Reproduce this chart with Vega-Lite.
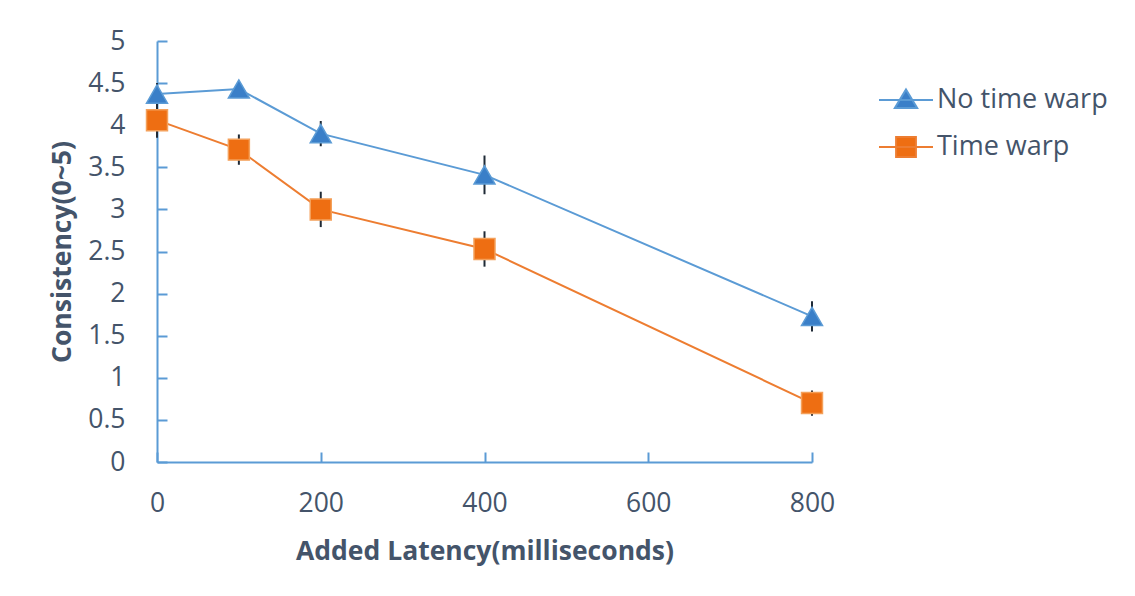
{
  "$schema": "https://vega.github.io/schema/vega-lite/v6.json",
  "width": 655,
  "height": 421,
  "autosize": {"type": "none"},
  "padding": {"left": 157, "top": 41, "right": 323, "bottom": 134},
  "background": "white",
  "config": {"view": {"stroke": null}, "font": "Open Sans"},
  "data": {
    "values": [
      {"series": "No time warp", "latency": 0, "mean": 4.37, "err": 0.13},
      {"series": "No time warp", "latency": 100, "mean": 4.43, "err": 0.05},
      {"series": "No time warp", "latency": 200, "mean": 3.9, "err": 0.15},
      {"series": "No time warp", "latency": 400, "mean": 3.41, "err": 0.23},
      {"series": "No time warp", "latency": 800, "mean": 1.73, "err": 0.18},
      {"series": "Time warp", "latency": 0, "mean": 4.06, "err": 0.21},
      {"series": "Time warp", "latency": 100, "mean": 3.71, "err": 0.18},
      {"series": "Time warp", "latency": 200, "mean": 3.0, "err": 0.21},
      {"series": "Time warp", "latency": 400, "mean": 2.53, "err": 0.21},
      {"series": "Time warp", "latency": 800, "mean": 0.7, "err": 0.15}
    ]
  },
  "encoding": {
    "x": {
      "field": "latency",
      "type": "quantitative",
      "scale": {"domain": [0, 800], "nice": false},
      "axis": {
        "title": "Added Latency(milliseconds)",
        "values": [0, 200, 400, 600, 800],
        "grid": false,
        "labelFlush": false,
        "domainColor": "#5B9BD5",
        "domainWidth": 2,
        "tickColor": "#5B9BD5",
        "tickWidth": 2,
        "tickSize": -10,
        "labelFontSize": 26.5,
        "labelColor": "#44546A",
        "labelPadding": 38,
        "titleFontSize": 26.5,
        "titleFontWeight": "bold",
        "titleColor": "#44546A",
        "titlePadding": 22
      }
    },
    "y": {
      "field": "mean",
      "type": "quantitative",
      "scale": {"domain": [0, 5], "nice": false},
      "axis": {
        "title": "Consistency(0~5)",
        "values": [0, 0.5, 1, 1.5, 2, 2.5, 3, 3.5, 4, 4.5, 5],
        "format": "~g",
        "grid": false,
        "labelFlush": false,
        "domainColor": "#5B9BD5",
        "domainWidth": 2,
        "tickColor": "#5B9BD5",
        "tickWidth": 2,
        "tickSize": -10,
        "labelFontSize": 26.5,
        "labelColor": "#44546A",
        "labelPadding": 42,
        "titleFontSize": 26.5,
        "titleFontWeight": "bold",
        "titleColor": "#44546A",
        "titleX": -95,
        "titleAngle": -90,
        "titleAlign": "center",
        "titleBaseline": "middle"
      }
    }
  },
  "layer": [
    {
      "mark": {"type": "line", "strokeWidth": 2},
      "encoding": {
        "color": {
          "field": "series",
          "type": "nominal",
          "scale": {"domain": ["No time warp", "Time warp"], "range": ["#5B9BD5", "#ED7D31"]},
          "legend": null
        }
      }
    },
    {
      "mark": {"type": "errorbar", "color": "#1f2a36", "thickness": 2},
      "encoding": {
        "yError": {"field": "err"}
      }
    },
    {
      "mark": {"type": "point", "filled": true, "size": 440, "opacity": 1, "strokeWidth": 1.5},
      "encoding": {
        "shape": {
          "field": "series",
          "type": "nominal",
          "scale": {"domain": ["No time warp", "Time warp"], "range": ["triangle-up", "square"]},
          "legend": null
        },
        "fill": {
          "field": "series",
          "type": "nominal",
          "scale": {"domain": ["No time warp", "Time warp"], "range": ["#3A7FC8", "#EE6E12"]},
          "legend": null
        },
        "stroke": {
          "field": "series",
          "type": "nominal",
          "scale": {"domain": ["No time warp", "Time warp"], "range": ["#5B9BD5", "#F4A05A"]},
          "legend": null
        }
      }
    },
    {
      "mark": {"type": "point", "filled": true, "size": 0, "strokeWidth": 2},
      "encoding": {
        "shape": {
          "field": "series",
          "type": "nominal",
          "scale": {
            "domain": ["No time warp", "Time warp"],
            "range": [
              "M-1.5,0H1.5M0,-0.58L0.62,0.45L-0.62,0.45Z",
              "M-1.5,0H1.5M-0.55,-0.55H0.55V0.55H-0.55Z"
            ]
          },
          "legend": {
            "title": null,
            "orient": "none",
            "legendX": 730,
            "legendY": 40,
            "padding": 0,
            "symbolSize": 1296,
            "symbolStrokeWidth": 2,
            "symbolOpacity": 1,
            "labelFontSize": 27,
            "labelColor": "#44546A",
            "labelOffset": 12,
            "rowPadding": 15,
            "labelLimit": 400
          }
        },
        "fill": {
          "field": "series",
          "type": "nominal",
          "scale": {"domain": ["No time warp", "Time warp"], "range": ["#3A7FC8", "#EE6E12"]},
          "legend": {
            "title": null,
            "orient": "none",
            "legendX": 730,
            "legendY": 40,
            "padding": 0,
            "symbolSize": 1296,
            "symbolStrokeWidth": 2,
            "symbolOpacity": 1,
            "labelFontSize": 27,
            "labelColor": "#44546A",
            "labelOffset": 12,
            "rowPadding": 15,
            "labelLimit": 400
          }
        },
        "stroke": {
          "field": "series",
          "type": "nominal",
          "scale": {"domain": ["No time warp", "Time warp"], "range": ["#5B9BD5", "#ED7D31"]},
          "legend": {
            "title": null,
            "orient": "none",
            "legendX": 730,
            "legendY": 40,
            "padding": 0,
            "symbolSize": 1296,
            "symbolStrokeWidth": 2,
            "symbolOpacity": 1,
            "labelFontSize": 27,
            "labelColor": "#44546A",
            "labelOffset": 12,
            "rowPadding": 15,
            "labelLimit": 400
          }
        }
      }
    }
  ],
  "resolve": {"scale": {"shape": "independent", "fill": "independent", "stroke": "independent"}}
}
